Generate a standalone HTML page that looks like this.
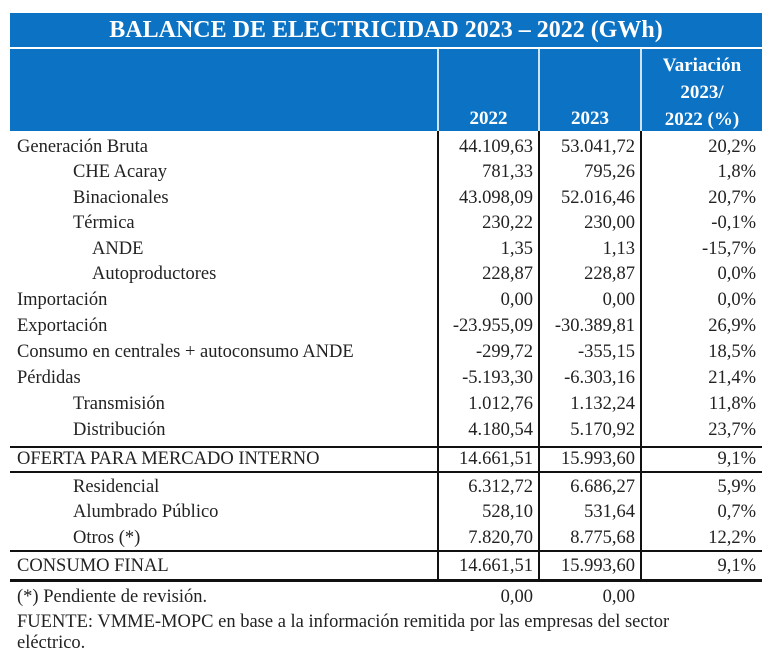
<!DOCTYPE html>
<html><head><meta charset="utf-8"><style>
body{margin:0;width:770px;height:667px;background:#fff;position:relative;overflow:hidden;font-family:"Liberation Serif",serif;color:#222}
.a{position:absolute;white-space:nowrap}
.t{font-size:18.5px;line-height:20px}
.r{text-align:right}
.hl{position:absolute;left:10px;width:752px;height:2px;background:#111}
.vl{position:absolute;top:131px;width:2px;background:#111;height:450px}
</style></head><body>
<div class="a" style="left:10px;top:13px;width:752px;height:34px;background:#0b72c4"></div>
<div class="a" style="left:10px;top:49px;width:752px;height:82px;background:#0b72c4"></div>
<div class="a" style="left:437px;top:49px;width:2px;height:82px;background:#cfe3f5"></div>
<div class="a" style="left:538px;top:49px;width:2px;height:82px;background:#cfe3f5"></div>
<div class="a" style="left:640px;top:49px;width:2px;height:82px;background:#cfe3f5"></div>
<div class="a" style="left:10px;top:15px;width:752px;text-align:center;color:#fff;font-weight:bold;font-size:24px;line-height:30px"><span style="display:inline-block;transform:scaleX(1.0)">BALANCE DE ELECTRICIDAD 2023 – 2022 (GWh)</span></div>
<div class="a" style="left:642px;top:52px;width:120px;text-align:center;color:#fff;font-weight:bold;font-size:19px;line-height:27px">Variación<br>2023/<br>2022 (%)</div>
<div class="a" style="left:439px;top:108px;width:99px;text-align:center;color:#fff;font-weight:bold;font-size:19px">2022</div>
<div class="a" style="left:540px;top:108px;width:100px;text-align:center;color:#fff;font-weight:bold;font-size:19px">2023</div>

<div class="vl" style="left:437px"></div>
<div class="vl" style="left:538px"></div>
<div class="vl" style="left:640px"></div>
<div class="hl" style="top:446px"></div>
<div class="hl" style="top:471px"></div>
<div class="hl" style="top:550px"></div>
<div class="hl" style="top:579px;height:3px"></div>

<div id="rows"></div>
<script>
var rows=[
[147,17,"Generación Bruta","44.109,63","53.041,72","20,2%"],
[172,73,"CHE Acaray","781,33","795,26","1,8%"],
[198,73,"Binacionales","43.098,09","52.016,46","20,7%"],
[223,73,"Térmica","230,22","230,00","-0,1%"],
[249,92,"ANDE","1,35","1,13","-15,7%"],
[274,92,"Autoproductores","228,87","228,87","0,0%"],
[300,17,"Importación","0,00","0,00","0,0%"],
[326,17,"Exportación","-23.955,09","-30.389,81","26,9%"],
[352,17,"Consumo en centrales + autoconsumo ANDE","-299,72","-355,15","18,5%"],
[378,17,"Pérdidas","-5.193,30","-6.303,16","21,4%"],
[404,73,"Transmisión","1.012,76","1.132,24","11,8%"],
[430,73,"Distribución","4.180,54","5.170,92","23,7%"],
[459,17,"OFERTA PARA MERCADO INTERNO","14.661,51","15.993,60","9,1%"],
[487,73,"Residencial","6.312,72","6.686,27","5,9%"],
[512,73,"Alumbrado Público","528,10","531,64","0,7%"],
[538,73,"Otros (*)","7.820,70","8.775,68","12,2%"],
[566,17,"CONSUMO FINAL","14.661,51","15.993,60","9,1%"],
[597,17,"(*) Pendiente de revisión.","0,00","0,00",""]
];
var h="";
rows.forEach(function(r){var y=r[0]-10;
h+='<div class="a t" style="left:'+r[1]+'px;top:'+y+'px">'+r[2]+'</div>';
h+='<div class="a t r" style="left:400px;width:133px;top:'+y+'px">'+r[3]+'</div>';
h+='<div class="a t r" style="left:500px;width:135px;top:'+y+'px">'+r[4]+'</div>';
h+='<div class="a t r" style="left:600px;width:156px;top:'+y+'px">'+r[5]+'</div>';});
document.getElementById("rows").innerHTML=h;
</script>
<div class="a t" style="left:17px;top:612px">FUENTE: VMME-MOPC en base a la información remitida por las empresas del sector</div>
<div class="a t" style="left:17px;top:633px">eléctrico.</div>
</body></html>
